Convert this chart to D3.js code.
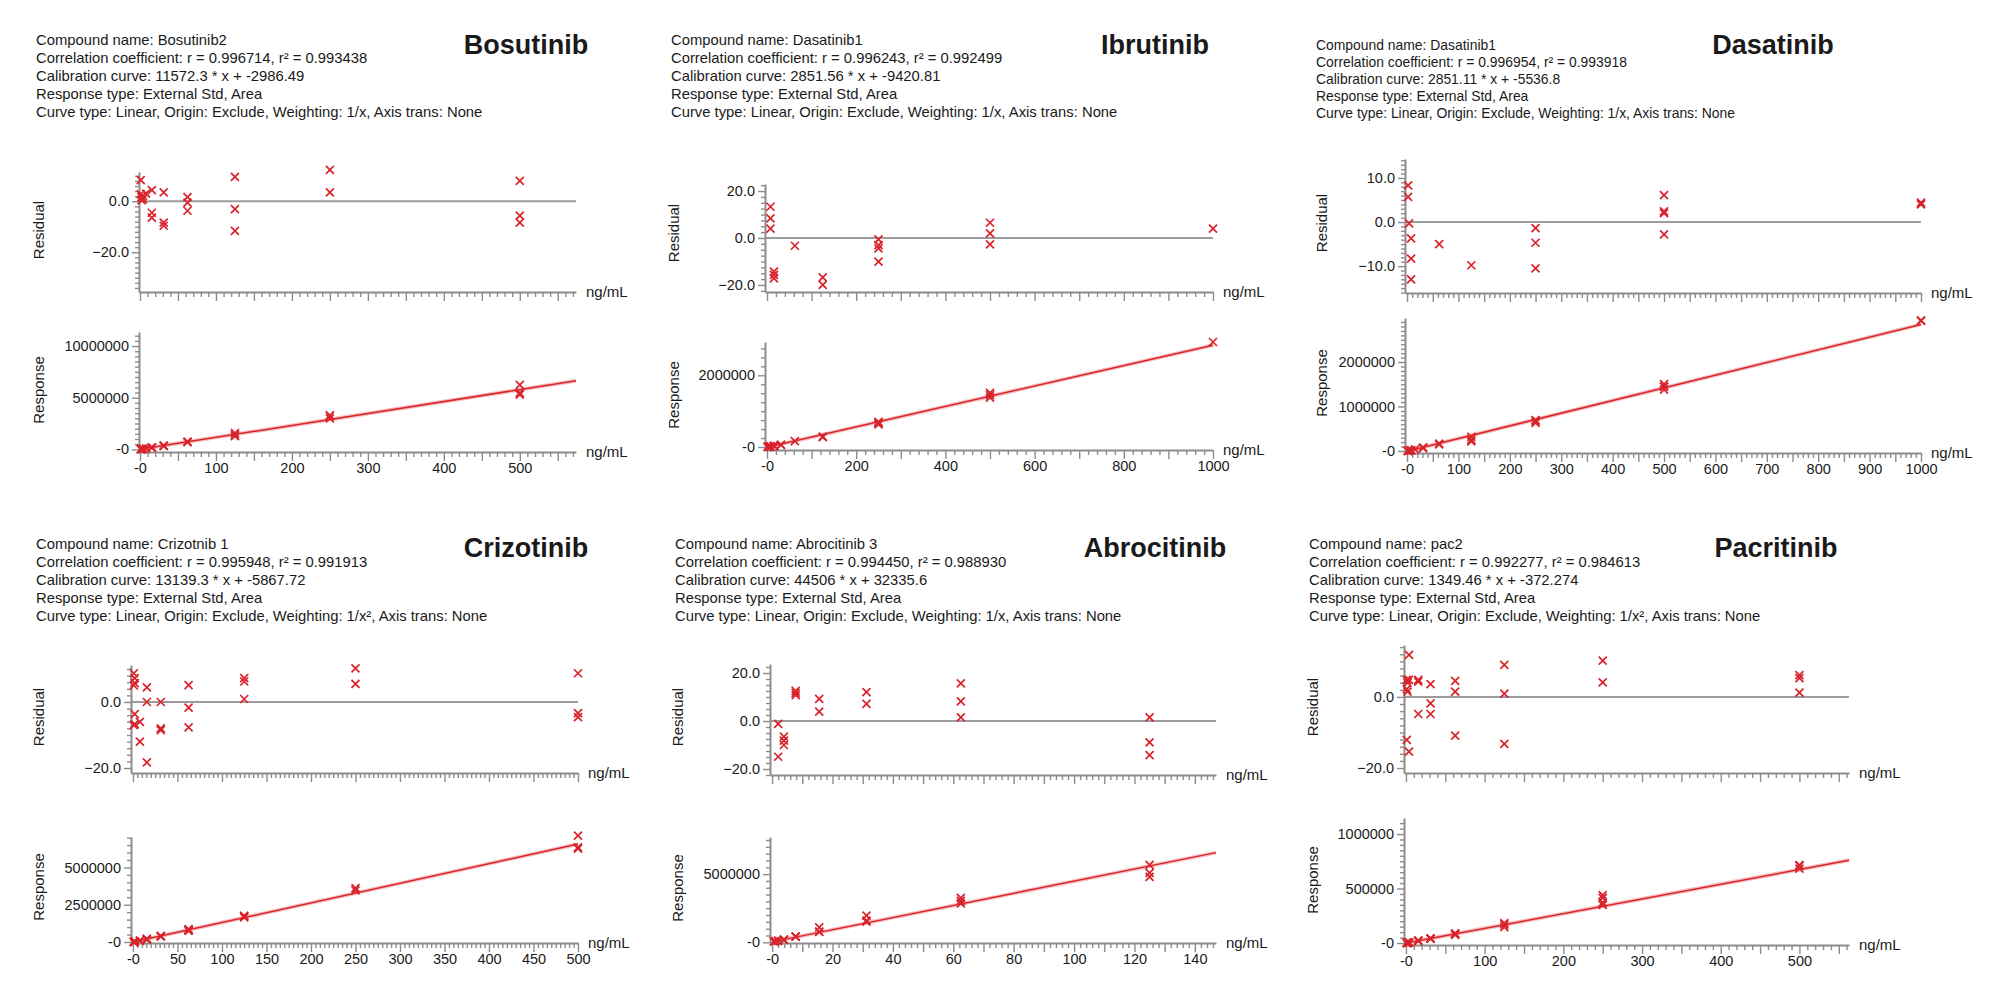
<!DOCTYPE html>
<html><head><meta charset="utf-8">
<script src="https://cdn.jsdelivr.net/npm/d3@7/dist/d3.min.js"></script>
<style>
html,body{margin:0;padding:0;background:#fff;}
svg{display:block;}
text{font-family:"Liberation Sans",Arial,sans-serif;fill:#1a1a1a;}
</style></head>
<body>
<svg id="chart" width="2000" height="1001"></svg>
<script>
// ---------- Titles & header texts ----------
const titles = ["Bosutinib", "Ibrutinib", "Dasatinib", "Crizotinib", "Abrocitinib", "Pacritinib"];
const compoundNames = ["Bosutinib2", "Dasatinib1", "Dasatinib1", "Crizotnib 1", "Abrocitinib 3", "pac2"];
const rValues = ["0.996714", "0.996243", "0.996954", "0.995948", "0.994450", "0.992277"];
const r2Values = ["0.993438", "0.992499", "0.993918", "0.991913", "0.988930", "0.984613"];
const slopes = [11572.3, 2851.56, 2851.11, 13139.3, 44506, 1349.46];
const intercepts = [-2986.49, -9420.81, -5536.8, -5867.72, 32335.6, -372.274];
const weightings = ["1/x", "1/x", "1/x", "1/x\u00B2", "1/x", "1/x\u00B2"];

// ---------- Bosutinib ----------
const bosResConc = [1, 1, 2, 2, 4, 4, 8, 15.6, 15.6, 15.6, 31.25, 31.25, 31.25, 62.5, 62.5, 62.5, 125, 125, 125, 250, 250, 250, 500, 500, 500];
const bosResidual = [8.3, 2.7, 1.6, 0.5, 2.1, 0.8, 3.0, 4.4, -4.5, -6.4, 3.5, -8.4, -9.6, 1.6, -0.5, -3.7, 9.6, -3.1, -11.6, 14.2, 12.3, 3.5, 8.0, -5.6, -8.4];
const bosRespConc = [1, 1, 2, 2, 4, 4, 8, 15.6, 15.6, 15.6, 31.25, 31.25, 31.25, 62.5, 62.5, 62.5, 125, 125, 125, 250, 250, 250, 500, 500, 500];
const bosResponse = [9300, 8820, 20480, 20260, 44210, 43650, 92280, 185360, 169550, 166180, 371210, 328530, 324220, 731810, 716680, 693630, 1582130, 1398800, 1276100, 3300480, 3245570, 2991240, 6245820, 5459310, 5297380];
const bosResTicks = [0, -20];
const bosRespTicks = [0, 5000000, 10000000];
const bosXTicks = [0, 100, 200, 300, 400, 500];

// ---------- Ibrutinib ----------
const ibrResConc = [7.8, 7.8, 7.8, 15.6, 15.6, 15.6, 62.5, 125, 125, 250, 250, 250, 250, 500, 500, 500, 1000];
const ibrResidual = [13.3, 8.4, 4.0, -14.3, -15.7, -17.2, -3.3, -16.8, -20.0, -0.6, -3.0, -4.4, -10.1, 6.5, 2.0, -2.7, 4.0];
const ibrRespConc = [1, 2, 4, 7.8, 7.8, 7.8, 15.6, 15.6, 15.6, 31.25, 31.25, 62.5, 125, 125, 250, 250, 250, 250, 500, 500, 500, 1000];
const ibrResponse = [3000, 5000, 8000, 14530, 13900, 13330, 30050, 29560, 29030, 57000, 62000, 163230, 288730, 277620, 699250, 682370, 672520, 632420, 1508420, 1444690, 1378120, 2930000];
const ibrResTicks = [20, 0, -20];
const ibrRespTicks = [0, 2000000];
const ibrXTicks = [0, 200, 400, 600, 800, 1000];

// ---------- Dasatinib ----------
const dasResConc = [2, 2, 3.9, 7.8, 7.8, 7.8, 62.5, 125, 250, 250, 250, 500, 500, 500, 500, 1000, 1000];
const dasResidual = [8.3, 5.7, -0.3, -3.7, -8.3, -13.0, -5.0, -9.8, -1.4, -4.7, -10.5, 6.1, 2.0, 2.4, -2.8, 4.0, 4.4];
const dasRespConc = [1, 2, 2, 3.9, 7.8, 7.8, 7.8, 15.6, 31.25, 31.25, 62.5, 62.5, 125, 125, 125, 250, 250, 250, 500, 500, 500, 500, 1000, 1000];
const dasResponse = [2000, 3000, 3000, 5570, 16080, 15320, 14530, 35000, 66000, 80000, 164000, 150000, 316000, 250000, 215000, 697340, 674000, 632980, 1506640, 1448420, 1454100, 1380260, 2925000, 2935000];
const dasResTicks = [10, 0, -10];
const dasRespTicks = [0, 1000000, 2000000];
const dasXTicks = [0, 100, 200, 300, 400, 500, 600, 700, 800, 900, 1000];

// ---------- Crizotinib ----------
const crzResConc = [1, 1, 1, 2, 2, 2, 2, 7.8, 7.8, 15.6, 15.6, 15.6, 31.25, 31.25, 31.25, 62.5, 62.5, 62.5, 125, 125, 125, 250, 250, 500, 500, 500];
const crzResidual = [8.7, 5.0, -7.0, 7.2, 5.7, -3.7, -6.7, -6.0, -12.0, 4.4, 0.0, -18.3, 0.0, -8.0, -8.5, 5.1, -1.7, -7.7, 7.2, 6.2, 0.9, 10.2, 5.5, 8.7, -3.4, -4.6];
const crzRespConc = [1, 1, 1, 2, 2, 2, 2, 7.8, 7.8, 15.6, 15.6, 15.6, 31.25, 31.25, 31.25, 62.5, 62.5, 62.5, 125, 125, 125, 250, 250, 500, 500, 500];
const crzResponse = [7900, 7640, 6760, 21880, 21570, 19650, 19040, 90820, 85030, 207870, 199110, 162670, 404740, 372360, 370330, 856920, 801480, 752560, 1754380, 1738010, 1651270, 3613410, 3459300, 7134830, 6340610, 6261850];
const crzResTicks = [0, -20];
const crzRespTicks = [0, 2500000, 5000000];
const crzXTicks = [0, 50, 100, 150, 200, 250, 300, 350, 400, 450, 500];

// ---------- Abrocitinib ----------
const abrResConc = [2, 2, 3.9, 3.9, 3.9, 7.8, 7.8, 7.8, 15.6, 15.6, 31.25, 31.25, 62.5, 62.5, 62.5, 125, 125, 125];
const abrResidual = [-1.2, -14.9, -6.5, -8.2, -10.0, 12.6, 11.7, 10.8, 9.2, 3.9, 12.0, 7.1, 15.7, 8.2, 1.5, 1.5, -8.9, -14.2];
const abrRespConc = [0.5, 1, 1, 2, 2, 3.9, 3.9, 3.9, 7.8, 7.8, 7.8, 15.6, 15.6, 15.6, 31.25, 31.25, 31.25, 62.5, 62.5, 62.5, 125, 125, 125];
const abrResponse = [60000, 80000, 90000, 119830, 103270, 192530, 189030, 185320, 427300, 423880, 420470, 1100000, 793480, 754970, 1950000, 1593930, 1524190, 3255750, 3044710, 2856170, 5679520, 5097580, 4801010];
const abrResTicks = [20, 0, -20];
const abrRespTicks = [0, 5000000];
const abrXTicks = [0, 20, 40, 60, 80, 100, 120, 140];

// ---------- Pacritinib ----------
const pacResConc = [1, 1, 1, 2, 2, 3.9, 3.9, 3.9, 15.6, 15.6, 15.6, 31.25, 31.25, 31.25, 62.5, 62.5, 62.5, 125, 125, 125, 250, 250, 500, 500, 500];
const pacResidual = [4.8, 2.2, -12.1, 4.0, 1.5, 11.8, 4.8, -15.4, 4.8, 4.3, -4.8, 3.6, -1.8, -4.8, 4.5, 1.5, -10.9, 9.0, 0.9, -13.2, 10.2, 4.1, 6.1, 5.3, 1.2];
const pacRespConc = [1, 1, 1, 2, 2, 3.9, 3.9, 3.9, 15.6, 15.6, 15.6, 31.25, 31.25, 31.25, 62.5, 62.5, 62.5, 125, 125, 125, 250, 250, 500, 500, 500, 250, 250];
const pacResponse = [1024, 998, 859, 2420, 2362, 5468, 5126, 4138, 21673, 21570, 19687, 43303, 41046, 39792, 87748, 85229, 74816, 183458, 169826, 146093, 371366, 350810, 715494, 710099, 682450, 440000, 415000];
const pacResTicks = [0, -20];
const pacRespTicks = [0, 500000, 1000000];
const pacXTicks = [0, 100, 200, 300, 400, 500];

// ---------- Layout (positions only) ----------
const panels = [
  {i:0, textX:36, textY:40, lineH:18, textSize:14.8, titleX:526, titleY:44,
   xRange:[139,576], xDom:[-1.3,574], xMinor:10, xMajor:50, xLabels:bosXTicks,
   resRange:[292,172], resDom:[-35.6,11.5], resMinor:2, resLabels:bosResTicks,
   respRange:[452,332], respDom:[-260000,11360000], respMinor:500000, respLabels:bosRespTicks,
   resX:bosResConc, resY:bosResidual, respX:bosRespConc, respY:bosResponse,
   labX:44, resLabY:230, respLabY:390},
  {i:1, textX:671, textY:40, lineH:18, textSize:14.8, titleX:1155, titleY:44,
   xRange:[765,1213], xDom:[-4.5,1000], xMinor:20, xMajor:100, xLabels:ibrXTicks,
   resRange:[292,184], resDom:[-23,23], resMinor:2.5, resLabels:ibrResTicks,
   respRange:[450,342], respDom:[-84000,2930000], respMinor:250000, respLabels:ibrRespTicks,
   resX:ibrResConc, resY:ibrResidual, respX:ibrRespConc, respY:ibrResponse,
   labX:679, resLabY:233, respLabY:395},
  {i:2, textX:1316, textY:45, lineH:17, textSize:13.9, titleX:1773, titleY:44,
   xRange:[1405,1921], xDom:[-4,1000], xMinor:10, xMajor:50, xLabels:dasXTicks,
   resRange:[293,159], resDom:[-16.1,14.3], resMinor:1, resLabels:dasResTicks,
   respRange:[453,318], respDom:[-45000,2990000], respMinor:100000, respLabels:dasRespTicks,
   resX:dasResConc, resY:dasResidual, respX:dasRespConc, respY:dasResponse,
   labX:1327, resLabY:223, respLabY:383},
  {i:3, textX:36, textY:544, lineH:18, textSize:14.8, titleX:526, titleY:547,
   xRange:[131,578], xDom:[-2.2,500], xMinor:5, xMajor:50, xLabels:crzXTicks,
   resRange:[773,665], resDom:[-21.5,11.2], resMinor:2, resLabels:crzResTicks,
   respRange:[943,837], respDom:[-67000,7040000], respMinor:500000, respLabels:crzRespTicks,
   resX:crzResConc, resY:crzResidual, respX:crzRespConc, respY:crzResponse,
   labX:44, resLabY:717, respLabY:887},
  {i:4, textX:675, textY:544, lineH:18, textSize:14.8, titleX:1155, titleY:547,
   xRange:[770,1216], xDom:[-0.7,147], xMinor:2, xMajor:10, xLabels:abrXTicks,
   resRange:[775,664], resDom:[-22.5,23.75], resMinor:2.5, resLabels:abrResTicks,
   respRange:[943,837], respDom:[-50000,7720000], respMinor:500000, respLabels:abrRespTicks,
   resX:abrResConc, resY:abrResidual, respX:abrRespConc, respY:abrResponse,
   labX:683, resLabY:717, respLabY:888},
  {i:5, textX:1309, textY:544, lineH:18, textSize:14.8, titleX:1776, titleY:547,
   xRange:[1404,1849], xDom:[-2.5,563], xMinor:10, xMajor:50, xLabels:pacXTicks,
   resRange:[773,645], resDom:[-21.4,14.6], resMinor:2, resLabels:pacResTicks,
   respRange:[945,818], respDom:[-18000,1147000], respMinor:50000, respLabels:pacRespTicks,
   resX:pacResConc, resY:pacResidual, respX:pacRespConc, respY:pacResponse,
   labX:1318, resLabY:707, respLabY:880}
];

const RED = "#d9232b";
const AXIS = "#8c8c8c";
const svg = d3.select("#chart");

function ticksIn(dom, step) {
  const lo = Math.ceil((dom[0] - 1e-9) / step) * step;
  const out = [];
  for (let v = lo; v <= dom[1] + 1e-9; v += step) out.push(+v.toFixed(6));
  return out;
}
const fmtRes = d3.format(".1f");
const fmtInt = v => (Math.abs(v) < 1e-9 ? "-0" : d3.format("d")(v));

function styleAxis(sel) {
  sel.attr("font-family", null).attr("font-size", null);
  sel.selectAll(".domain").attr("stroke", AXIS).attr("stroke-width", 2);
  sel.selectAll(".tick line").attr("stroke", AXIS).attr("stroke-width", 1.4);
  sel.selectAll(".tick text").style("font-size", "14.5px").attr("fill", "#1a1a1a");
}

function yAxis(g, y, x0, minorStep, labels, fmt) {
  const dom = y.domain();
  const minor = ticksIn(dom, minorStep).filter(v => !labels.includes(v));
  const a1 = g.append("g").attr("transform", `translate(${x0},0)`)
    .call(d3.axisLeft(y).tickValues(minor).tickSize(4).tickSizeOuter(0).tickFormat(""));
  styleAxis(a1);
  const a2 = g.append("g").attr("transform", `translate(${x0},0)`)
    .call(d3.axisLeft(y).tickValues(labels).tickSize(7).tickPadding(3).tickFormat(fmt));
  a2.select(".domain").remove();
  styleAxis(a2);
}

function xAxis(g, x, y0, p, showLabels) {
  const dom = x.domain();
  const all = ticksIn([0, dom[1]], p.xMinor);
  const major = ticksIn([0, dom[1]], p.xMajor);
  const minor = all.filter(v => !major.some(m => Math.abs(m - v) < 1e-6));
  const a1 = g.append("g").attr("transform", `translate(0,${y0})`)
    .call(d3.axisBottom(x).tickValues(minor).tickSize(5).tickSizeOuter(0).tickFormat(""));
  styleAxis(a1);
  const a2 = g.append("g").attr("transform", `translate(0,${y0})`)
    .call(d3.axisBottom(x).tickValues(major).tickSize(9).tickPadding(2)
      .tickFormat(v => (showLabels && p.xLabels.includes(v)) ? fmtInt(v) : ""));
  a2.select(".domain").remove();
  styleAxis(a2);
  g.append("text").attr("x", p.xRange[1] + 10).attr("y", y0 + 5)
    .style("font-size", "15px").text("ng/mL");
}

function crosses(g, xs, ys, x, y) {
  g.append("g").selectAll("path").data(xs.map((v, k) => [v, ys[k]]))
    .join("path")
    .filter(d => y(d[1]) >= y.range()[1] - 4 && y(d[1]) <= y.range()[0] + 4)
    .attr("transform", d => `translate(${x(d[0])},${y(d[1])})`)
    .attr("d", "M-4,-4L4,4M-4,4L4,-4")
    .attr("stroke", RED).attr("stroke-width", 1.7).attr("fill", "none");
}

panels.forEach(p => {
  const g = svg.append("g");
  const k = p.i;
  const info = [
    "Compound name: " + compoundNames[k],
    "Correlation coefficient: r = " + rValues[k] + ", r\u00B2 = " + r2Values[k],
    "Calibration curve: " + slopes[k] + " * x + " + intercepts[k],
    "Response type: External Std, Area",
    "Curve type: Linear, Origin: Exclude, Weighting: " + weightings[k] + ", Axis trans: None"
  ];
  info.forEach((t, j) => {
    g.append("text").attr("x", p.textX).attr("y", p.textY + j * p.lineH + 5)
      .style("font-size", p.textSize + "px").text(t);
  });
  g.append("text").attr("x", p.titleX).attr("y", p.titleY + 9.5)
    .attr("text-anchor", "middle").style("font-size", "27px").style("font-weight", "bold")
    .attr("fill", "#111").text(titles[k]);

  const x = d3.scaleLinear().domain(p.xDom).range(p.xRange);

  // Residual plot
  const yR = d3.scaleLinear().domain(p.resDom).range(p.resRange);
  g.append("line").attr("x1", p.xRange[0]).attr("x2", p.xRange[1])
    .attr("y1", yR(0)).attr("y2", yR(0)).attr("stroke", "#9c9c9c").attr("stroke-width", 2);
  yAxis(g, yR, p.xRange[0], p.resMinor, p.resLabels, fmtRes);
  xAxis(g, x, p.resRange[0], p, false);
  crosses(g, p.resX, p.resY, x, yR);
  g.append("text").attr("transform", `translate(${p.labX},${p.resLabY}) rotate(-90)`)
    .attr("text-anchor", "middle").style("font-size", "15px").text("Residual");

  // Response plot
  const yP = d3.scaleLinear().domain(p.respDom).range(p.respRange);
  yAxis(g, yP, p.xRange[0], p.respMinor, p.respLabels, fmtInt);
  xAxis(g, x, p.respRange[0], p, true);
  const fit = [0, p.xDom[1]].map(v => [v, slopes[k] * v + intercepts[k]]);
  const line = d3.line().x(d => x(d[0])).y(d => yP(d[1]));
  g.append("path").attr("d", line(fit)).attr("stroke", "#f2a5a5").attr("stroke-width", 4).attr("fill", "none").attr("opacity", 0.7);
  g.append("path").attr("d", line(fit)).attr("stroke", RED).attr("stroke-width", 1.5).attr("fill", "none");
  crosses(g, p.respX, p.respY, x, yP);
  g.append("text").attr("transform", `translate(${p.labX},${p.respLabY}) rotate(-90)`)
    .attr("text-anchor", "middle").style("font-size", "15px").text("Response");
});
</script>
</body></html>
